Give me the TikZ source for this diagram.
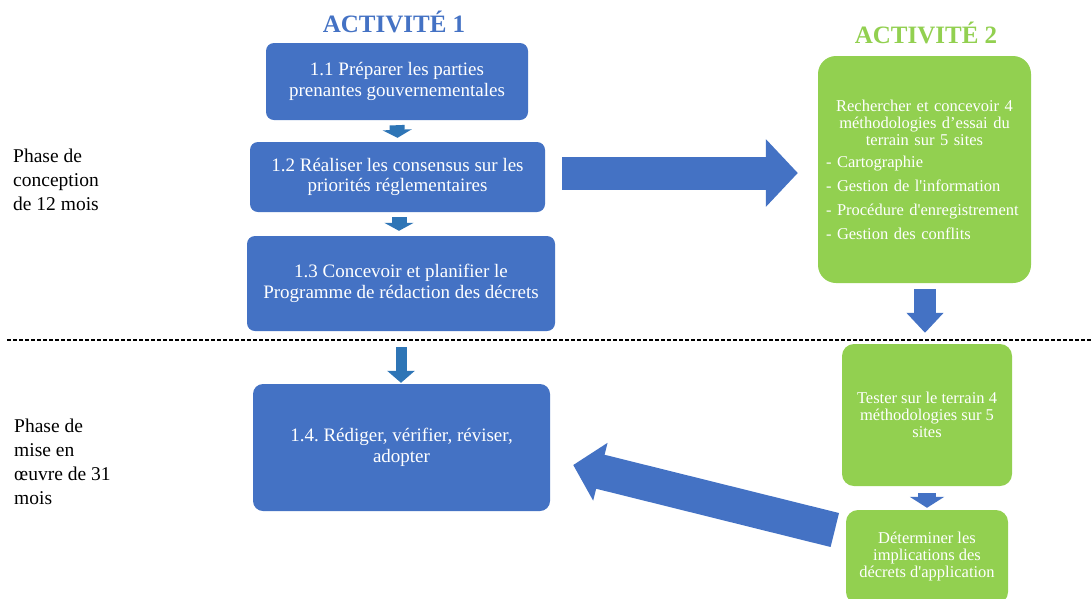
\documentclass[tikz,border=0pt]{standalone}
\usepackage{fontspec}
\setmainfont{Liberation Serif}
\usetikzlibrary{arrows.meta}
\usetikzlibrary{calc}
\definecolor{actblue}{HTML}{4472C4}
\definecolor{arrowblue}{HTML}{2E75B6}
\definecolor{actgreen}{HTML}{92D050}
\tikzset{
  bluebox/.style={fill=actblue, text=white, align=center, inner sep=0pt, rounded corners=8pt, font=\fontsize{19}{20.5}\selectfont},
  greenbox/.style={fill=actgreen, text=white, align=center, inner sep=0pt, rounded corners=12pt, font=\fontsize{16.5}{17}\selectfont},
  phase/.style={anchor=north west, align=left, inner sep=0pt, font=\fontsize{19.5}{24}\selectfont},
  titre/.style={anchor=base, inner sep=0pt, font=\bfseries\fontsize{25}{30}\selectfont},
  smallarrow/.style={draw=arrowblue, line width=#1},
  bigarrow/.style={draw=actblue, line width=#1},
}

\begin{document}
\begin{tikzpicture}[x=1pt,y=-1pt]
\path[use as bounding box, fill=white] (0,0) rectangle (1091,598);

\node[titre, text=actblue] (t1) at (394,32) {ACTIVITÉ 1};
\node[titre, text=actgreen] (t2) at (926,43) {ACTIVITÉ 2};

\node[bluebox, minimum width=262pt, minimum height=77pt] (b11) at (397,81.5) {1.1 Préparer les parties\\prenantes gouvernementales};
\node[bluebox, minimum width=295pt, minimum height=70pt] (b12) at (397.5,177) {1.2 Réaliser les consensus sur les\\priorités réglementaires};
\node[bluebox, minimum width=308pt, minimum height=95pt] (b13) at (401,283.5) {1.3 Concevoir et planifier le\\Programme de rédaction des décrets};
\node[bluebox, rounded corners=10pt, minimum width=297pt, minimum height=127pt] (b14) at (401.5,447.5) {1.4.\ Rédiger, vérifier, réviser,\\adopter};

\node[greenbox, rounded corners=18pt, minimum width=213pt, minimum height=227pt, text width=197pt, align=left] (a21) at (924.5,169.5)
  {{\centering Rechercher et concevoir 4\\méthodologies d’essai du\\terrain sur 5 sites\par}
   \vspace{5pt}
   - Cartographie\\[7pt]
   - Gestion de l\textquotesingle information\\[7pt]
   - Procédure d\textquotesingle enregistrement\\[7pt]
   - Gestion des conflits};
\node[greenbox, minimum width=170pt, minimum height=142pt] (a22) at (927,415) {Tester sur le terrain 4\\méthodologies sur 5\\sites};
\node[greenbox, minimum width=162pt, minimum height=94pt] (a23) at (927,557) {Déterminer les\\implications des\\décrets d\textquotesingle application};

\node[phase] (p1) at (13,148.5) {Phase de\\conception\\de 12 mois};
\node[phase] (p2) at (14,418.7) {Phase de\\mise en\\œuvre de 31\\mois};

\draw[dash pattern=on 4pt off 2pt, line width=1.2pt] (7,340) -- (1091,340);

\draw[smallarrow=15pt, -{Triangle[length=8pt, width=29pt]}] ([yshift=-5pt]b11.south) -- ([yshift=4pt]b12.north);
\draw[smallarrow=15pt, -{Triangle[length=8pt, width=29pt]}] ([xshift=1.5pt, yshift=-5pt]b12.south) -- ([xshift=-2pt, yshift=5pt]b13.north);
\draw[smallarrow=11pt, -{Triangle[length=12pt, width=27pt]}] ([yshift=-16pt]b13.south) -- ([xshift=-0.5pt, yshift=1pt]b14.north);

\draw[bigarrow=33pt, -{Triangle[length=32pt, width=66pt]}] ([xshift=17pt, yshift=4pt]b12.east) -- ([xshift=-20pt, yshift=-3.5pt]a21.west);
\draw[bigarrow=22pt, -{Triangle[length=20pt, width=36pt]}] ([xshift=0.5pt, yshift=-6pt]a21.south) -- ([xshift=-2pt, yshift=11pt]a22.north);
\draw[bigarrow=18pt, -{Triangle[length=11pt, width=34pt]}] ([yshift=-7pt]a22.south) -- ([yshift=2pt]a23.north);
\draw[bigarrow=35pt, -{Triangle[length=28pt, width=58pt]}] ([xshift=-11pt, yshift=27pt]a23.west) -- ([xshift=23pt, yshift=-17.5pt]b14.east);
\end{tikzpicture}
\end{document}
